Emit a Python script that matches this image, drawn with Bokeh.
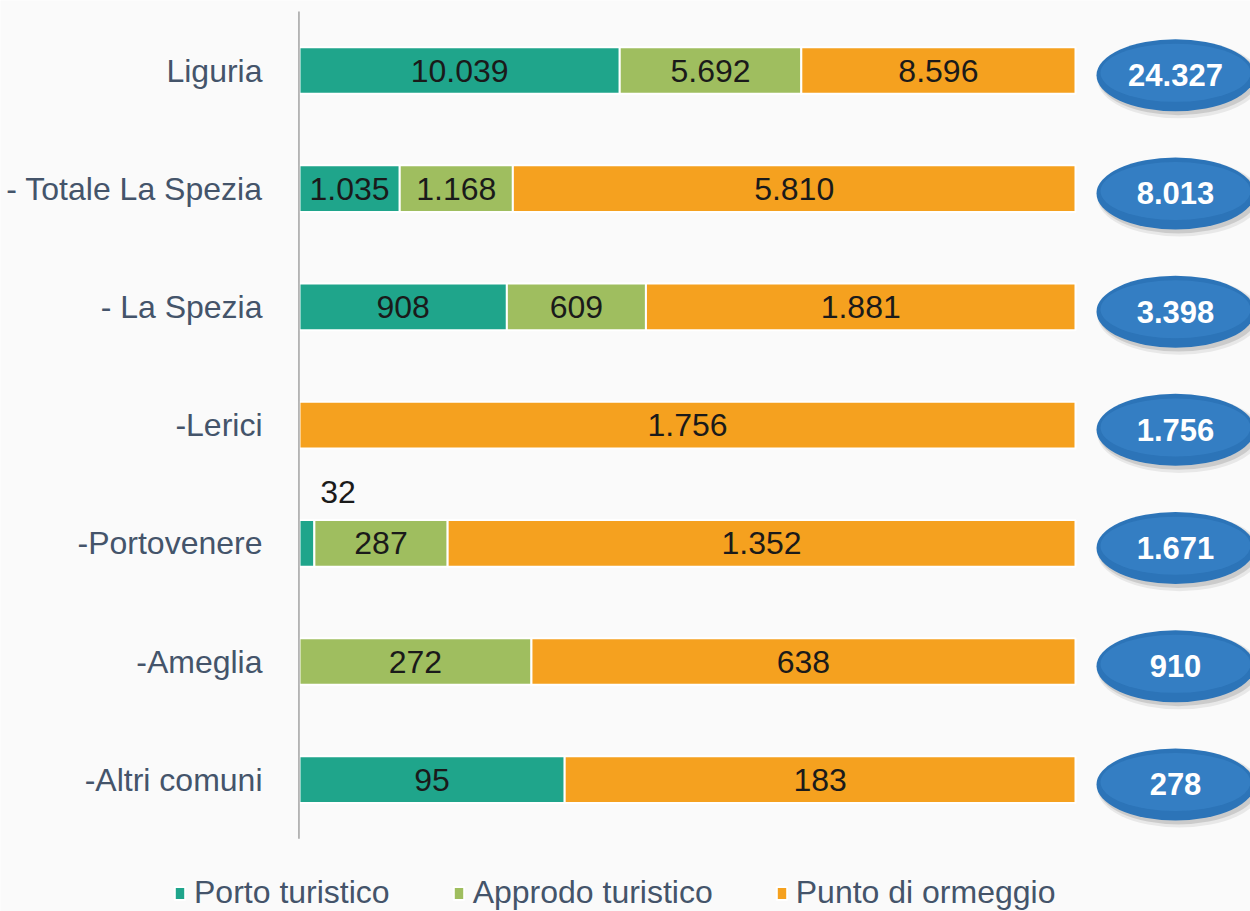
from bokeh.plotting import figure
from bokeh.models import ColumnDataSource, Range1d, Legend, LegendItem
from bokeh.transform import dodge
from bokeh.core.properties import value
from bokeh.embed import file_html
from bokeh.resources import INLINE

# ---- data ----
categories = ["Liguria", "- Totale La Spezia", "- La Spezia", "-Lerici",
              "-Portovenere", "-Ameglia", "-Altri comuni"]
porto = [10039, 1035, 908, 0, 32, 0, 95]
approdo = [5692, 1168, 609, 0, 287, 272, 0]
punto = [8596, 5810, 1881, 1756, 1352, 638, 183]
series_names = ["Porto turistico", "Approdo turistico", "Punto di ormeggio"]

COLORS = ["#1fa58b", "#9fbe5f", "#f5a11f"]
BG = "#fafafa"
FONT = "Liberation Sans"
LABEL_COLOR = "#44546a"


def fmt(v):
    return f"{v:,}".replace(",", ".")


n = len(categories)
ypos = [n - 1 - i for i in range(n)]          # Liguria on top
totals = [a + b + c for a, b, c in zip(porto, approdo, punto)]

W, H = 1250, 911
PX_X = 7.76      # px per percent
PX_Y = 118.2     # px per row
X0 = 299         # px where 0% sits
Y_TOP = (n - 1) + 70 / PX_Y

p = figure(width=W, height=H,
           x_range=Range1d(-X0 / PX_X, (W - X0) / PX_X),
           y_range=Range1d(Y_TOP - H / PX_Y, Y_TOP),
           output_backend="svg", toolbar_location=None,
           min_border=0, background_fill_color=BG, border_fill_color=BG)
p.outline_line_color = None
p.xgrid.visible = False
p.ygrid.visible = False
p.xaxis.visible = False
p.yaxis.visible = False

renderers = []
seg_lbl = dict(x=[], y=[], text=[])
small_lbl = dict(x=[], y=[], text=[])
cum = [0.0] * n
for vals, color in zip([porto, approdo, punto], COLORS):
    d = dict(y=[], left=[], right=[])
    for i, v in enumerate(vals):
        share = 100.0 * v / totals[i]
        if v > 0:
            d["y"].append(ypos[i])
            d["left"].append(cum[i])
            d["right"].append(cum[i] + share)
            target = small_lbl if share < 3 else seg_lbl
            target["x"].append(cum[i] + share / 2)
            target["y"].append(ypos[i])
            target["text"].append(fmt(v))
        cum[i] += share
    r = p.hbar(y="y", left="left", right="right", height=0.395,
               source=ColumnDataSource(d), fill_color=color,
               line_color="white", line_width=2)
    renderers.append(r)

# category axis line and labels
p.segment(x0=[-0.07], y0=[-0.5], x1=[-0.07], y1=[n - 0.5], line_color="#8c8c8c", line_width=1.2)
p.text(x=0, y="y", text="text", source=ColumnDataSource(dict(y=ypos, text=categories)),
       text_font=value(FONT), text_font_size="32px", text_color=LABEL_COLOR,
       text_align="right", text_baseline="middle", x_offset=-37)

p.text(x="x", y="y", text="text", source=ColumnDataSource(seg_lbl),
       text_font=value(FONT), text_font_size="32px", text_color="#1a1a1a",
       text_align="center", text_baseline="middle")
p.text(x="x", y="y", text="text", source=ColumnDataSource(small_lbl),
       text_font=value(FONT), text_font_size="32px", text_color="#1a1a1a",
       text_align="center", text_baseline="middle", x_offset=31, y_offset=-51)

# totals in ellipses
EX = 100 + 100 / PX_X
tot_src = ColumnDataSource(dict(y=ypos, text=[fmt(t) for t in totals]))
p.ellipse(x=EX + 0.5, y=dodge("y", -0.075), width=164, height=78,
          width_units="screen", height_units="screen", source=tot_src,
          fill_color="black", fill_alpha=0.07, line_color=None)
p.ellipse(x=EX + 0.35, y=dodge("y", -0.065), width=160, height=74,
          width_units="screen", height_units="screen", source=tot_src,
          fill_color="black", fill_alpha=0.12, line_color=None)
p.ellipse(x=EX, y=dodge("y", -0.04), width=158, height=72,
          width_units="screen", height_units="screen", source=tot_src,
          fill_color="#2c74b8", line_color=None)
p.ellipse(x=EX, y=dodge("y", -0.02), width=150, height=58,
          width_units="screen", height_units="screen", source=tot_src,
          fill_color="#3b86c9", fill_alpha=0.6, line_color=None)
p.text(x=EX, y=dodge("y", -0.04), text="text", source=tot_src,
       text_font=value(FONT), text_font_size="31px", text_font_style="bold",
       text_color="white", text_align="center", text_baseline="middle")

legend = Legend(items=[LegendItem(label=s, renderers=[r]) for s, r in zip(series_names, renderers)],
                orientation="horizontal", location=(173, 0),
                background_fill_alpha=0, border_line_alpha=0,
                glyph_width=13, glyph_height=16, label_standoff=8, spacing=62,
                padding=0, margin=0,
                label_text_font=FONT, label_text_font_size="32px",
                label_text_color=LABEL_COLOR)
p.add_layout(legend)

open("out.html", "w").write(file_html(p, INLINE))
